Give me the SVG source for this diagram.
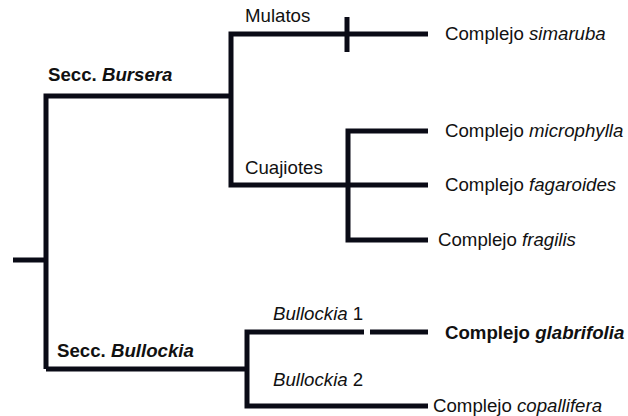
<svg xmlns="http://www.w3.org/2000/svg" width="628" height="416" viewBox="0 0 628 416">
<style>
.b{stroke:#0a0b16;stroke-width:5;fill:none;stroke-linecap:butt;stroke-linejoin:miter}
text{font-family:"Liberation Sans",Arial,sans-serif;font-size:18.67px;fill:#111}
.bd{font-weight:bold}
.i{font-style:italic}
</style>
<rect width="628" height="416" fill="#fff"/>
<g id="connectors">
<path class="b" d="M13 260H46"/>
<path class="b" d="M46 369V96H231"/>
<path class="b" d="M46 369H247"/>
<path class="b" d="M428 34H231V185H428"/>
<path class="b" d="M347 17V52"/>
<path class="b" d="M428 131H348V240H428"/>
<path class="b" d="M364 332H247V406H428"/>
<path class="b" d="M370 332H428"/>
</g>
<g id="secc-bursera"><text x="48" y="81" class="bd">Secc. <tspan class="i">Bursera</tspan></text></g>
<g id="mulatos"><text x="245" y="22">Mulatos</text></g>
<g id="cuajiotes"><text x="245" y="174">Cuajiotes</text></g>
<g id="simaruba"><text x="445" y="40">Complejo <tspan class="i">simaruba</tspan></text></g>
<g id="microphylla"><text x="445" y="137">Complejo <tspan class="i">microphylla</tspan></text></g>
<g id="fagaroides"><text x="445" y="191">Complejo <tspan class="i">fagaroides</tspan></text></g>
<g id="fragilis"><text x="438" y="246">Complejo <tspan class="i">fragilis</tspan></text></g>
<g id="secc-bullockia"><text x="57" y="357" class="bd">Secc. <tspan class="i">Bullockia</tspan></text></g>
<g id="bullockia1"><text x="273" y="320"><tspan class="i">Bullockia</tspan> 1</text></g>
<g id="bullockia2"><text x="273" y="386"><tspan class="i">Bullockia</tspan> 2</text></g>
<g id="glabrifolia"><text x="445" y="339" class="bd">Complejo <tspan class="i">glabrifolia</tspan></text></g>
<g id="copallifera"><text x="433" y="412">Complejo <tspan class="i">copallifera</tspan></text></g>
</svg>
